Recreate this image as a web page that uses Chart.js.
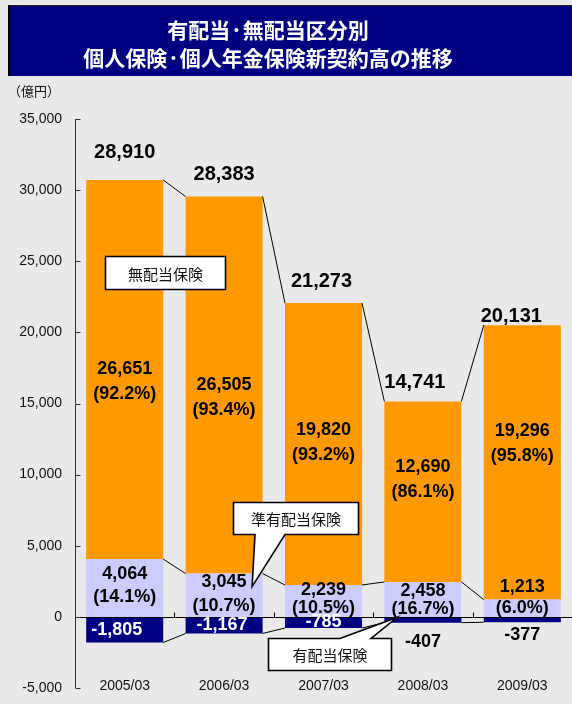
<!DOCTYPE html>
<html>
<head>
<meta charset="utf-8">
<script src="https://cdn.jsdelivr.net/npm/chart.js@4.4.1/dist/chart.umd.min.js"></script>
<style>
  html, body { margin: 0; padding: 0; background: #e9e9e9; }
  #wrap { position: relative; width: 572px; height: 704px; overflow: hidden; }
  #titlebox { position: absolute; left: 8px; top: 5px; width: 564px; height: 71px; background: #000080;
    border-left: 2px solid #000; border-top: 1px solid #222; box-sizing: border-box; }
  #title { position: absolute; left: 0; top: 15px; width: 536px; text-align: center; color: #fff;
    font: bold 21px "Noto Sans CJK JP", sans-serif; line-height: 28px; }
  #unit { position: absolute; left: 8px; top: 81px; font: 13px "Noto Sans CJK JP", sans-serif; color: #111; }
  canvas { position: absolute; left: 0; top: 0; }
</style>
</head>
<body>
<div id="wrap">
  <canvas id="chart" width="572" height="704"></canvas>
  <div id="titlebox"></div>
  <div id="title">有配当·無配当区分別<br>個人保険·個人年金保険新契約高の推移</div>
  <div id="unit">（億円）</div>
</div>
<script>
const categories = ['2005/03', '2006/03', '2007/03', '2008/03', '2009/03'];
// 有配当保険 (negative), 準有配当保険, 無配当保険
const withDividend = [-1805, -1167, -785, -407, -377];
const semiDividend = [4064, 3045, 2239, 2458, 1213];
const noDividend = [26651, 26505, 19820, 12690, 19296];
const totals = [28910, 28383, 21273, 14741, 20131];
const semiShare = ['14.1%', '10.7%', '10.5%', '16.7%', '6.0%'];
const noShare = ['92.2%', '93.4%', '93.2%', '86.1%', '95.8%'];

const fmt = v => v.toLocaleString('en-US');
const NUM = '"Liberation Sans", Arial, sans-serif';
const JP = '"Noto Sans CJK JP", sans-serif';

const decor = {
  id: 'decor',
  afterDatasetsDraw(chart, args, opts) {
    const { ctx, chartArea: a, scales: { y } } = chart;
    const lav = chart.getDatasetMeta(0).data;
    const org = chart.getDatasetMeta(1).data;
    const nav = chart.getDatasetMeta(2).data;
    ctx.save();
    ctx.lineWidth = 1;
    ctx.strokeStyle = '#000';
    const seg = (x1, y1, x2, y2) => { ctx.beginPath(); ctx.moveTo(x1, y1); ctx.lineTo(x2, y2); ctx.stroke(); };

    // series lines between bars
    [lav, org, nav].forEach(els => {
      for (let i = 0; i < els.length - 1; i++) {
        const p = els[i], q = els[i + 1];
        seg(p.x + p.width / 2, p.y, q.x - q.width / 2, q.y);
      }
    });

    // zero line with tick marks
    const y0 = Math.round(y.getPixelForValue(0)) + 0.5;
    seg(a.left, y0, a.right, y0);
    const step = a.width / categories.length;
    for (let i = 1; i <= categories.length; i++) {
      const bx = Math.round(a.left + i * step) + 0.5;
      seg(bx, y0, bx, y0 - 5);
    }
    // y axis
    ctx.strokeStyle = '#333';
    const ax = Math.round(a.left) + 0.5;
    seg(ax, a.top, ax, a.bottom);
    y.ticks.forEach(t => {
      const py = Math.round(y.getPixelForValue(t.value)) + 0.5;
      seg(ax, py, ax + 5, py);
    });

    const text = (s, x, yy, font, color) => {
      ctx.font = font; ctx.fillStyle = color;
      ctx.textAlign = 'center'; ctx.textBaseline = 'middle';
      ctx.fillText(s, x, yy);
    };

    // category labels
    org.forEach((el, i) => text(categories[i], el.x, a.bottom - 2, '14px ' + NUM, '#111'));

    const B20 = 'bold 20px ' + NUM, B18 = 'bold 18px ' + NUM;
    org.forEach((el, i) => {
      const [tx, ty] = opts.totalShift[i];
      text(fmt(totals[i]), el.x + tx, el.y - 22 + ty, B20, '#000');
      const mid = (el.y + el.base) / 2 + opts.orangeShift[i];
      text(fmt(noDividend[i]), el.x, mid, B18, '#000');
      text('(' + noShare[i] + ')', el.x, mid + 25, B18, '#000');
    });
    lav.forEach((el, i) => {
      const mid = (el.y + el.base) / 2;
      const [v, p] = opts.lavShift[i];
      text(fmt(semiDividend[i]), el.x, mid + v, B18, '#000');
      text('(' + semiShare[i] + ')', el.x, mid + p, B18, '#000');
    });
    nav.forEach((el, i) => {
      const [nx, ny] = opts.navShift[i];
      if (ny === 0) text(fmt(withDividend[i]), el.x + nx, (el.y + el.base) / 2, B18, '#fff');
      else text(fmt(withDividend[i]), el.x + nx, el.y + ny, B18, '#000');
    });

    // callouts
    const callout = (l, t, r, b, label, ptr) => {
      ctx.beginPath();
      ctx.moveTo(l, t);
      if (ptr && ptr.edge === 'top') { ctx.lineTo(ptr.b1, t); ctx.lineTo(ptr.x, ptr.y); ctx.lineTo(ptr.b2, t); }
      ctx.lineTo(r, t); ctx.lineTo(r, b);
      if (ptr && ptr.edge === 'bottom') { ctx.lineTo(ptr.b2, b); ctx.lineTo(ptr.x, ptr.y); ctx.lineTo(ptr.b1, b); }
      ctx.lineTo(l, b); ctx.closePath();
      ctx.fillStyle = '#fff'; ctx.fill();
      ctx.strokeStyle = '#000'; ctx.lineWidth = 1.6; ctx.stroke();
      text(label, (l + r) / 2, (t + b) / 2 + 1, '15px ' + JP, '#111');
    };
    callout(105.5, 256.5, 225.5, 289.5, '無配当保険');
    callout(233.5, 502.5, 358.5, 534.5, '準有配当保険',
      { edge: 'bottom', b1: 255, b2: 285, x: lav[1].x + 28, y: lav[1].y + 13 });
    callout(268.5, 638.5, 391.5, 670.5, '有配当保険',
      { edge: 'top', b1: 340, b2: 371, x: nav[3].x - 26, y: y0 });
    ctx.restore();
  }
};

new Chart(document.getElementById('chart'), {
  type: 'bar',
  data: {
    labels: categories,
    datasets: [
      { label: '準有配当保険', data: semiDividend, backgroundColor: '#ccccff' },
      { label: '無配当保険', data: noDividend, backgroundColor: '#ff9900' },
      { label: '有配当保険', data: withDividend, backgroundColor: '#000080' }
    ]
  },
  options: {
    responsive: false,
    animation: false,
    events: [],
    layout: { padding: { top: 119, bottom: 16, left: 0, right: 0 } },
    datasets: { bar: { barPercentage: 0.775, categoryPercentage: 1, borderWidth: 0 } },
    plugins: {
      legend: { display: false },
      tooltip: { enabled: false },
      decor: {
        totalShift: [[0, -5], [0, 0], [-2, 0], [-8, 3], [-11, 13]],
        orangeShift: [0, 0, -14, -25, -31],
        lavShift: [[-14, 9], [-13, 11], [-11, 7], [-8, 10], [-21, 0]],
        navShift: [[-8, 0], [-2, 0], [0, 0], [0, 19], [0, 13]]
      }
    },
    scales: {
      x: { display: false, stacked: true },
      y: {
        stacked: true, min: -5000, max: 35000,
        afterFit(s) { s.width = 75; s.paddingTop = 0; s.paddingBottom = 0; },
        grid: { display: false, drawTicks: false },
        border: { display: false },
        ticks: { stepSize: 5000, padding: 13, color: '#111', font: { family: NUM, size: 14 }, callback: v => fmt(v) }
      }
    }
  },
  plugins: [decor]
});
</script>
</body>
</html>
